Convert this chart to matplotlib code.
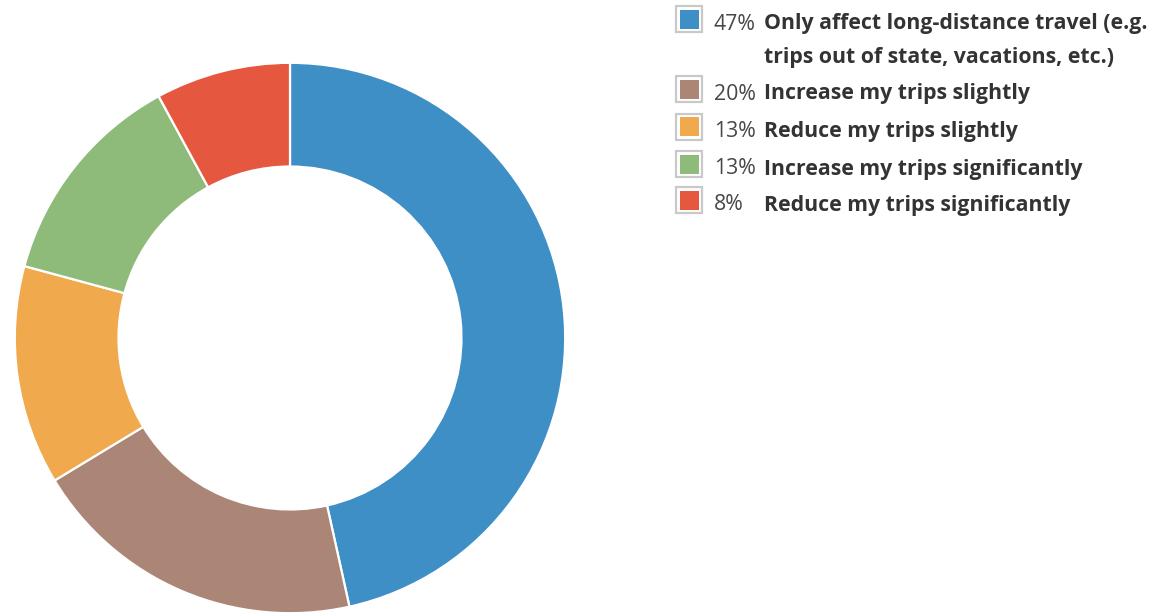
import matplotlib
matplotlib.use("Agg")
import matplotlib.pyplot as plt
from matplotlib.patches import Rectangle

labels = [
    ["Only affect long-distance travel (e.g.", "trips out of state, vacations, etc.)"],
    ["Increase my trips slightly"],
    ["Reduce my trips slightly"],
    ["Increase my trips significantly"],
    ["Reduce my trips significantly"],
]
percents = [47, 20, 13, 13, 8]
colors = ["#3e8fc5", "#ab8677", "#f1a94e", "#8fbb7a", "#e5583f"]

W, H = 1155, 616
fig = plt.figure(figsize=(W / 100, H / 100), dpi=100)

# Donut chart, starting at 12 o'clock and running clockwise
cx, cy, r = 290, 338, 276
ax = fig.add_axes([(cx - r) / W, (H - cy - r) / H, 2 * r / W, 2 * r / H])
ax.pie(percents, colors=colors, startangle=90, counterclock=False, radius=1.0,
       wedgeprops=dict(width=1 - 172 / 276, edgecolor="white", linewidth=1.6))
ax.set_xlim(-1.003, 1.003)
ax.set_ylim(-1.003, 1.003)
ax.set_aspect("equal")
ax.axis("off")

# Legend laid out in pixel coordinates
lax = fig.add_axes([0, 0, 1, 1])
lax.set_xlim(0, W)
lax.set_ylim(H, 0)
lax.axis("off")

font = "Open Sans"
fs = 15.3
box_centers = [19, 89, 126.5, 164, 200]
line_gap = 33
for lines, pct, col, yc in zip(labels, percents, colors, box_centers):
    lax.add_patch(Rectangle((676, yc - 13), 26, 26, facecolor="white",
                            edgecolor="#c9c9c9", linewidth=1.6))
    lax.add_patch(Rectangle((679.5, yc - 9.5), 19, 19, facecolor=col,
                            edgecolor="none"))
    base = yc + 10.5
    lax.text(714, base, f"{pct}%", fontsize=fs, family=font,
             color="#474747", va="baseline", ha="left")
    for k, line in enumerate(lines):
        lax.text(764, base + k * line_gap, line, fontsize=fs, family=font,
                 fontweight="bold", color="#333333", va="baseline", ha="left")

fig.savefig("out.png", dpi=100, facecolor="white")
